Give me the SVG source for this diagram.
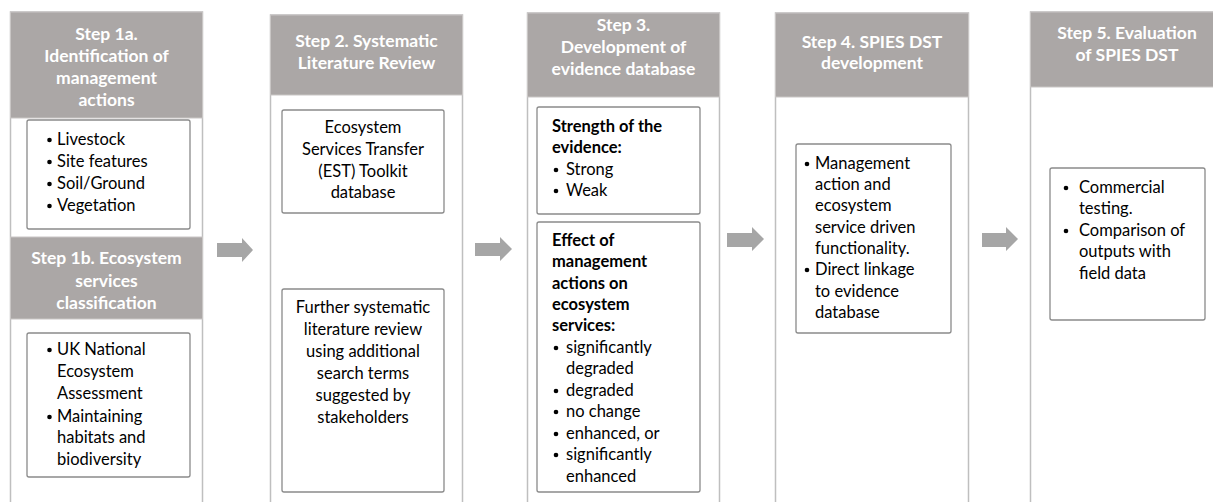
<svg xmlns="http://www.w3.org/2000/svg" width="1213" height="502" viewBox="0 0 1213 502">
<style>
.col{fill:#fff;stroke:#bfbfbf;stroke-width:1.5}
.hdr{fill:#aba7a6;stroke:#c9c6c5;stroke-width:1}
.ht{font-family:Lato,"Liberation Sans",sans-serif;font-weight:bold;font-size:17.5px;fill:#fff;text-anchor:middle}
.box{fill:#fff;stroke:#8a8a8a;stroke-width:1.3}
.bt{font-family:Lato,"Liberation Sans",sans-serif;font-size:16.5px;fill:#000}
.c{text-anchor:middle}
.b{font-weight:bold}
.arr{fill:#a6a6a6}
</style>
<rect width="1213" height="502" fill="#fff"/>

<g id="step1">
<rect class="col" x="10.5" y="12" width="192" height="500"/>
<rect class="hdr" x="10.5" y="12" width="192" height="106"/>
<text class="ht"><tspan x="106.5" y="40">Step 1a.</tspan><tspan x="106.5" y="62">Identification of</tspan><tspan x="106.5" y="84">management</tspan><tspan x="106.5" y="106">actions</tspan></text>
<rect class="box" x="27" y="120" width="163" height="109" rx="2"/>
<g class="bt">
<circle cx="49.5" cy="140" r="2.3"/><text x="57" y="145">Livestock</text>
<circle cx="49.5" cy="162" r="2.3"/><text x="57" y="167">Site features</text>
<circle cx="49.5" cy="184" r="2.3"/><text x="57" y="189">Soil/Ground</text>
<circle cx="49.5" cy="206" r="2.3"/><text x="57" y="211">Vegetation</text>
</g>
<rect class="hdr" x="10.5" y="237" width="192" height="82"/>
<text class="ht"><tspan x="106.5" y="264">Step 1b. Ecosystem</tspan><tspan x="106.5" y="287">services</tspan><tspan x="106.5" y="309">classification</tspan></text>
<rect class="box" x="27" y="333" width="163" height="144" rx="2"/>
<g class="bt">
<circle cx="49.5" cy="350" r="2.3"/><text x="57" y="355">UK National</text>
<text x="57" y="377">Ecosystem</text>
<text x="57" y="399">Assessment</text>
<circle cx="49.5" cy="417" r="2.3"/><text x="57" y="422">Maintaining</text>
<text x="57" y="443">habitats and</text>
<text x="57" y="465">biodiversity</text>
</g>
</g>

<g id="step2">
<rect class="col" x="270.5" y="15" width="192" height="500"/>
<rect class="hdr" x="270.5" y="15" width="192" height="80"/>
<text class="ht"><tspan x="366.5" y="47">Step 2. Systematic</tspan><tspan x="366.5" y="69">Literature Review</tspan></text>
<rect class="box" x="282" y="110" width="162" height="103" rx="2"/>
<text class="bt c"><tspan x="363" y="133">Ecosystem</tspan><tspan x="363" y="155">Services Transfer</tspan><tspan x="363" y="177">(EST) Toolkit</tspan><tspan x="363" y="198">database</tspan></text>
<rect class="box" x="282" y="289" width="162" height="203" rx="2"/>
<text class="bt c"><tspan x="363" y="313">Further systematic</tspan><tspan x="363" y="335">literature review</tspan><tspan x="363" y="357">using additional</tspan><tspan x="363" y="379">search terms</tspan><tspan x="363" y="401">suggested by</tspan><tspan x="363" y="423">stakeholders</tspan></text>
</g>

<g id="step3">
<rect class="col" x="527.5" y="13" width="192" height="500"/>
<rect class="hdr" x="527.5" y="13" width="192" height="84"/>
<text class="ht"><tspan x="623.5" y="31">Step 3.</tspan><tspan x="623.5" y="53">Development of</tspan><tspan x="623.5" y="75">evidence database</tspan></text>
<rect class="box" x="537" y="107" width="163" height="107" rx="2"/>
<g class="bt">
<text class="b" x="552" y="132">Strength of the</text>
<text class="b" x="552" y="153">evidence:</text>
<circle cx="556" cy="170" r="2.3"/><text x="566" y="175">Strong</text>
<circle cx="556" cy="191" r="2.3"/><text x="566" y="196">Weak</text>
</g>
<rect class="box" x="537" y="222" width="163" height="270" rx="2"/>
<g class="bt">
<text class="b" x="552" y="246">Effect of</text>
<text class="b" x="552" y="267">management</text>
<text class="b" x="552" y="289">actions on</text>
<text class="b" x="552" y="310">ecosystem</text>
<text class="b" x="552" y="331">services:</text>
<circle cx="556" cy="348" r="2.3"/><text x="566" y="353">significantly</text>
<text x="566" y="374">degraded</text>
<circle cx="556" cy="391" r="2.3"/><text x="566" y="396">degraded</text>
<circle cx="556" cy="412" r="2.3"/><text x="566" y="417">no change</text>
<circle cx="556" cy="434" r="2.3"/><text x="566" y="439">enhanced, or</text>
<circle cx="556" cy="455" r="2.3"/><text x="566" y="460">significantly</text>
<text x="566" y="482">enhanced</text>
</g>
</g>

<g id="step4">
<rect class="col" x="775.5" y="13" width="193" height="500"/>
<rect class="hdr" x="775.5" y="13" width="193" height="84"/>
<text class="ht"><tspan x="872" y="48">Step 4. SPIES DST</tspan><tspan x="872" y="69">development</tspan></text>
<rect class="box" x="796" y="144" width="155" height="189" rx="2"/>
<g class="bt">
<circle cx="807" cy="164" r="2.3"/><text x="815" y="169">Management</text>
<text x="815" y="190">action and</text>
<text x="815" y="211">ecosystem</text>
<text x="815" y="233">service driven</text>
<text x="815" y="254">functionality.</text>
<circle cx="807" cy="270" r="2.3"/><text x="815" y="275">Direct linkage</text>
<text x="815" y="297">to evidence</text>
<text x="815" y="318">database</text>
</g>
</g>

<g id="step5">
<rect class="col" x="1030.5" y="12" width="200" height="500"/>
<rect class="hdr" x="1030.5" y="12" width="200" height="75"/>
<text class="ht"><tspan x="1127" y="39">Step 5. Evaluation</tspan><tspan x="1127" y="61">of SPIES DST</tspan></text>
<rect class="box" x="1050" y="168" width="155" height="152" rx="2"/>
<g class="bt">
<circle cx="1066" cy="188" r="2.3"/><text x="1079" y="193">Commercial</text>
<text x="1079" y="214">testing.</text>
<circle cx="1066" cy="231" r="2.3"/><text x="1079" y="236">Comparison of</text>
<text x="1079" y="257">outputs with</text>
<text x="1079" y="279">field data</text>
</g>
</g>

<g id="connectors">
<path class="arr" d="M217,243 H242 V238 L253,250 L242,262 V257 H217 Z"/>
<path class="arr" d="M475,243 H500 V237 L512,249 L500,261 V256 H475 Z"/>
<path class="arr" d="M727,233 H752 V227 L764,239 L752,251 V247 H727 Z"/>
<path class="arr" d="M982,233 H1006 V227 L1018,239 L1006,251 V247 H982 Z"/>
</g>
</svg>
